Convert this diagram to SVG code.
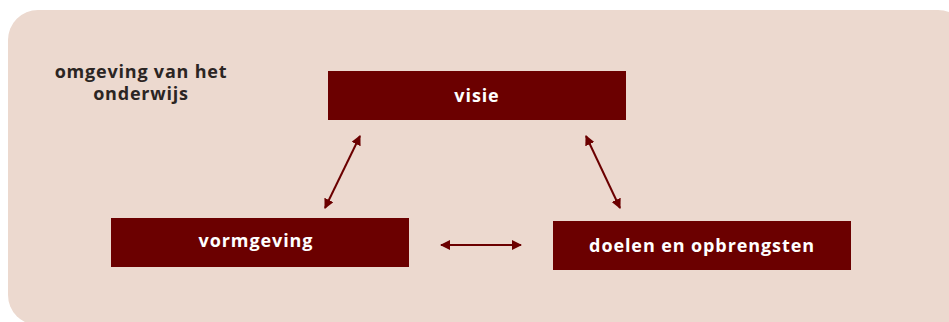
<svg xmlns="http://www.w3.org/2000/svg" width="949" height="322" viewBox="0 0 949 322">
<defs>
<style>
.box{fill:#6b0000}
.lbl{font-family:"Open Sans","Liberation Sans",sans-serif;font-weight:700;font-size:18px;letter-spacing:0.9px;fill:#ffffff;text-anchor:middle}
.env{font-family:"Open Sans","Liberation Sans",sans-serif;font-weight:700;font-size:18px;letter-spacing:0.8px;fill:#2b2523;text-anchor:middle}
.con{stroke:#6b0000;stroke-width:2;fill:none;marker-start:url(#ah);marker-end:url(#ah)}
</style>
<marker id="ah" viewBox="0 0 10 10" refX="9" refY="5" markerWidth="5" markerHeight="5" orient="auto-start-reverse" markerUnits="strokeWidth">
<path d="M0,0 L10,5 L0,10 z" fill="#6b0000"/>
</marker>
</defs>
<rect x="8" y="10" width="960" height="315" rx="30" ry="30" fill="#ecd9cf"/>
<g id="env">
<text class="env" x="141" y="78">omgeving van het</text>
<text class="env" x="141" y="100">onderwijs</text>
</g>
<g id="visie">
<rect class="box" x="328" y="71" width="298" height="49"/>
<text class="lbl" x="477" y="102">visie</text>
</g>
<g id="vormgeving">
<rect class="box" x="111" y="218" width="298" height="49"/>
<text class="lbl" x="256" y="247">vormgeving</text>
</g>
<g id="doelen">
<rect class="box" x="553" y="221" width="298" height="49"/>
<text class="lbl" x="702" y="252">doelen en opbrengsten</text>
</g>
<g id="connectors">
<line class="con" x1="325" y1="208" x2="360" y2="136"/>
<line class="con" x1="586" y1="136" x2="620" y2="208"/>
<line class="con" x1="441" y1="245" x2="521" y2="245"/>
</g>
</svg>
